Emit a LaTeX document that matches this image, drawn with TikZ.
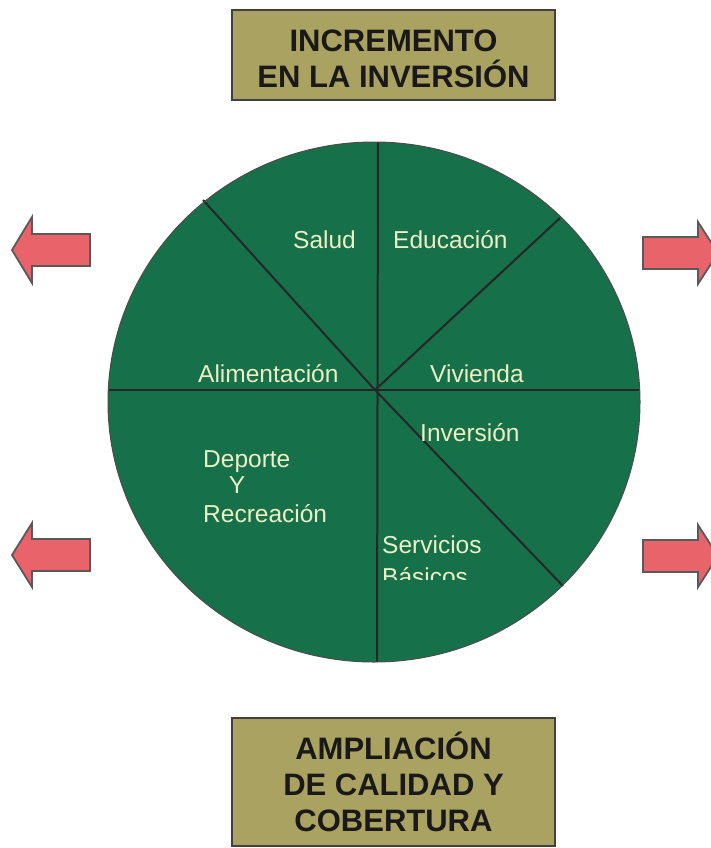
\documentclass[tikz,border=0pt]{standalone}
\usepackage{fontspec}
\setmainfont{Liberation Sans}
\usetikzlibrary{positioning, calc}
\definecolor{piegreen}{RGB}{22,112,74}
\definecolor{khaki}{RGB}{170,162,96}
\definecolor{salmon}{RGB}{232,100,106}
\definecolor{labeltext}{RGB}{236,240,196}

\begin{document}
\begin{tikzpicture}[x=1pt, y=-1pt,
    titlebox/.style={draw=black!75, line width=1.5pt, fill=khaki, inner sep=0pt},
    titletext/.style={font=\fontsize{31}{36}\selectfont\bfseries, align=center,
                      text=black!90, inner sep=0pt},
    slice/.style={font=\fontsize{24.5}{27.5}\selectfont, text=labeltext,
                  inner sep=0pt, anchor=base west},
    spoke/.style={draw=black!85, line width=2pt},
    arrowshape/.style={draw=black!65, line width=1.8pt, fill=salmon, line join=miter}]

    \useasboundingbox (0,0) rectangle (710,848);

    % ---------- pie ----------
    \coordinate (O)   at (374,402);
    \coordinate (hub) at (375,390);
    \fill[piegreen] (O) ellipse [x radius=266pt, y radius=260pt];

    % ---------- spoke ends on the rim ----------
    \coordinate (top)   at (378,142);
    \coordinate (bot)   at (377,662);
    \coordinate (left)  at (108,390);
    \coordinate (right) at (640,390);
    \coordinate (ul)    at (203,200);
    \coordinate (ur)    at (560,218);
    \coordinate (lr)    at (563,586);

    \draw[spoke] (top) -- (bot);
    \draw[spoke] (left) -- (right);
    \draw[spoke] (ul) -- (hub);
    \draw[spoke] (ur) -- (hub);
    \draw[spoke] (hub) -- (lr);

    \draw[black!70, line width=1pt] (O) ellipse [x radius=266pt, y radius=260pt];

    % ---------- slice labels ----------
    \node[slice] (salud)        at (293,248) {Salud};
    \node[slice] (educacion)    at (393,248) {Educación};
    \node[slice] (alimentacion) at (198,382) {Alimentación};
    \node[slice] (vivienda)     at (430,382) {Vivienda};
    \node[slice] (inversion)    at (420,441) {Inversión};
    \node[slice] (deporte)      at (203,467) {Deporte};
    \node[slice, anchor=base] (conj) at (237,493) {Y};
    \node[slice] (recreacion)   at (203,522) {Recreación};
    \node[slice] (servicios)    at (382,553) {Servicios};
    \begin{scope}
      \clip (300,560) rectangle (520,579);
      \node[slice] (basicos)    at (382,585) {Básicos};
    \end{scope}

    % ---------- title boxes ----------
    \node[titlebox, minimum width=323pt, minimum height=90pt]  (topbox) at (393.5,55)  {};
    \node[titletext] (toptext) at (393.5,58.9) {INCREMENTO\\EN LA INVERSIÓN};

    \node[titlebox, minimum width=323pt, minimum height=128pt] (botbox) at (393.5,782) {};
    \node[titletext] (bottext) at (393.5,781.6) {AMPLIACIÓN\\DE CALIDAD Y\\COBERTURA};

    % ---------- side arrows ----------
    \draw[arrowshape] (90,234) -- (32,234) -- (32,217) -- (12,250)
      -- (32,283) -- (32,266) -- (90,266) -- cycle;
    \draw[arrowshape] (90,539) -- (32,539) -- (32,523) -- (12,555)
      -- (32,587) -- (32,571) -- (90,571) -- cycle;
    \draw[arrowshape] (643,237) -- (698,237) -- (698,222) -- (718,253)
      -- (698,284) -- (698,269) -- (643,269) -- cycle;
    \draw[arrowshape] (643,540) -- (698,540) -- (698,525) -- (718,556)
      -- (698,587) -- (698,572) -- (643,572) -- cycle;

\end{tikzpicture}
\end{document}
